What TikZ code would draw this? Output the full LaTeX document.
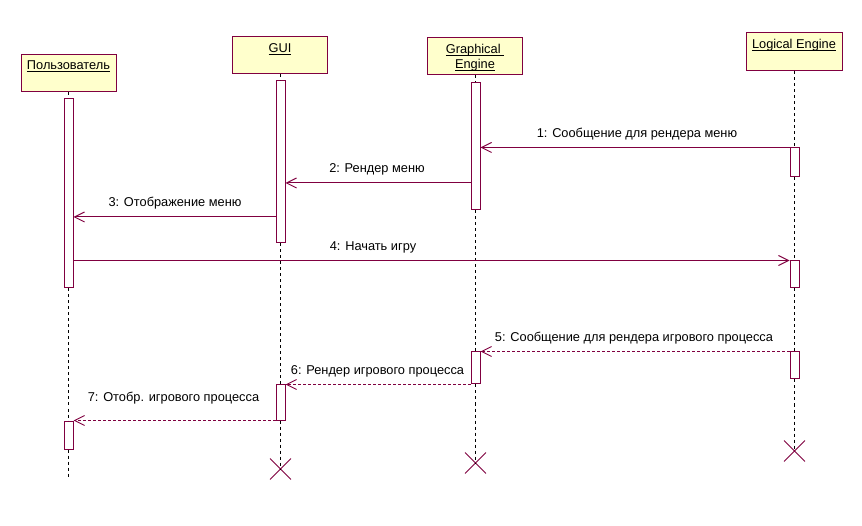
\documentclass[tikz,border=0pt]{standalone}
\usepackage{fontspec}
\setmainfont{Liberation Sans}
\usetikzlibrary{arrows.meta,shapes.misc}
\definecolor{rose}{RGB}{128,0,64}
\definecolor{boxfill}{RGB}{255,255,204}
\tikzset{
  objbox/.style={draw=rose, fill=boxfill, line width=1pt, rectangle, inner sep=0pt, minimum width=95pt, minimum height=37pt},
  objtext/.style={anchor=base, inner sep=0pt, text=black},
  actbox/.style={draw=rose, fill=white, line width=1pt, rectangle, inner sep=0pt, minimum width=9pt},
  lifeline/.style={black, line width=0.8pt, dash pattern=on 3pt off 3pt},
  msg/.style={rose, line width=1pt, -{Straight Barb[length=10pt,width=10pt,line width=1pt]}},
  retmsg/.style={msg, dash pattern=on 3pt off 2pt},
  msglabel/.style={anchor=base, inner sep=0pt, text=black},
  xmark/.style={draw=rose, line width=0.9pt, cross out, inner sep=0pt, minimum size=20pt}
}
\newcommand{\ul}[1]{\underline{\smash{#1}}}
\begin{document}
\begin{tikzpicture}[x=1pt,y=-1pt,font=\fontsize{12.8}{15}\selectfont]
\useasboundingbox (0,0) rectangle (862,526);
\fill[white] (0,0) rectangle (862,526);

% objects
\node[objbox] (user) at (68.5,73.5) {};
\node[objtext] (usert) at (68.5,70) {\ul{Пользователь}};
\node[objbox] (gui) at (280,55.5) {};
\node[objtext] (guit) at (280,53) {\ul{GUI}};
\node[objbox] (ge) at (474.5,56.5) {};
\node[objtext] (get1) at (475,54) {\ul{Graphical\ }};
\node[objtext] (get2) at (475,69) {\ul{Engine}};
\node[objbox, minimum width=96pt, minimum height=38pt] (le) at (794,52) {};
\node[objtext] (let) at (794,49) {\ul{Logical Engine}};

% activations
\node[actbox, minimum height=189pt] (u1) at (68.5,193.5) {};
\node[actbox, minimum height=28pt] (u2) at (68.5,435) {};
\node[actbox, minimum height=162pt] (g1) at (280.5,162) {};
\node[actbox, minimum height=35pt] (g2) at (280.5,402.5) {};
\node[actbox, minimum height=127pt] (e1) at (475.5,146.5) {};
\node[actbox, minimum height=32pt] (e2) at (475.5,368) {};
\node[actbox, minimum height=29pt] (l1) at (794.5,162.5) {};
\node[actbox, minimum height=27pt] (l2) at (794.5,274.5) {};
\node[actbox, minimum height=27pt] (l3) at (794.5,365.5) {};

% destruction marks
\node[xmark] (gx) at (280.5,469) {};
\node[xmark] (ex) at (475.5,463) {};
\node[xmark] (lx) at (794.5,451) {};
\coordinate (uend) at (68.5,478);

% lifelines
\draw[lifeline] (user.south -| u1.north) -- (u1.north);
\draw[lifeline] (u1.south) -- (u2.north);
\draw[lifeline] (u2.south) -- (uend);
\draw[lifeline] (gui.south -| g1.north) -- (g1.north);
\draw[lifeline] (g1.south) -- (g2.north);
\draw[lifeline] (g2.south) -- (gx.center);
\draw[lifeline] (ge.south -| e1.north) -- (e1.north);
\draw[lifeline] (e1.south) -- (e2.north);
\draw[lifeline] (e2.south) -- (ex.center);
\draw[lifeline] (le.south -| l1.north) -- (l1.north);
\draw[lifeline] (l1.south) -- (l2.north);
\draw[lifeline] (l2.south) -- (l3.north);
\draw[lifeline] (l3.south) -- (lx.center);

% message rows
\coordinate (y2) at (0,183);
\coordinate (y3) at (0,217);

% messages
\draw[msg] (l1.north west) -- (e1.east |- l1.north west);
\draw[msg] (e1.west |- y2) -- (g1.east |- y2);
\draw[msg] (g1.west |- y3) -- (u1.east |- y3);
\draw[msg] (u1.east |- l2.north west) -- (l2.north west);
\draw[retmsg] (l3.north west) -- (e2.north east);
\draw[retmsg] (e2.west |- g2.north) -- (g2.north east);
\draw[retmsg] (g2.west |- u2.north) -- (u2.north east);

% labels
\node[msglabel] (m1) at (637,138) {1: Сообщение для рендера меню};
\node[msglabel] (m2) at (377,173) {2: Рендер меню};
\node[msglabel] (m3) at (175,207) {3: Отображение меню};
\node[msglabel] (m4) at (373,251) {4: Начать игру};
\node[msglabel] (m5) at (634,342) {5: Сообщение для рендера игрового процесса};
\node[msglabel] (m6) at (377.5,375) {6: Рендер игрового процесса};
\node[msglabel] (m7) at (173.5,402) {7: Отобр. игрового процесса};
\end{tikzpicture}
\end{document}
